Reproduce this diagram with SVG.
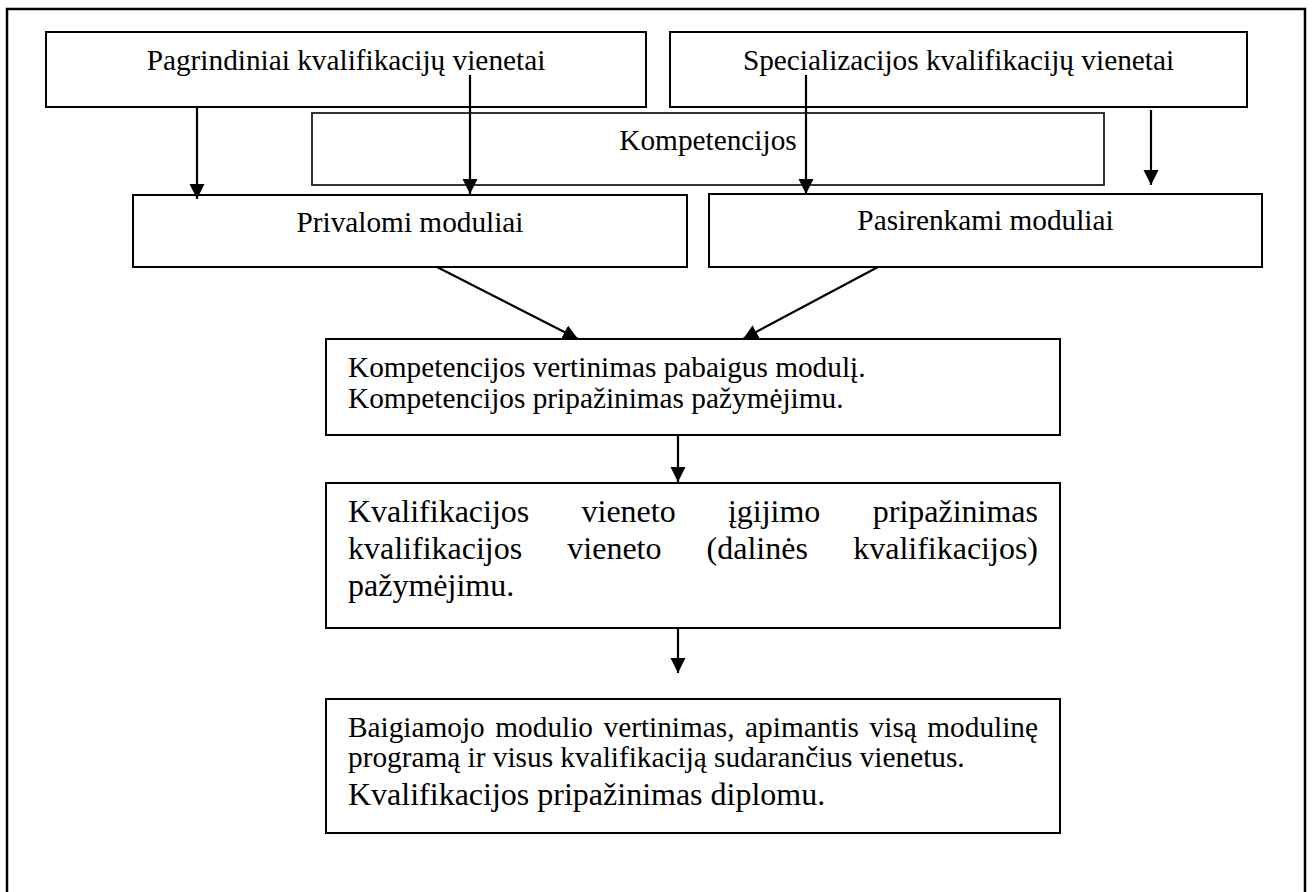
<svg xmlns="http://www.w3.org/2000/svg" width="1313" height="892" viewBox="0 0 1313 892">
  <style>
    .box { fill: #ffffff; stroke: #000000; stroke-width: 2; }
    .box2 { fill: #ffffff; stroke: #111111; stroke-width: 1.7; }
    .t { font-family: "Liberation Serif", "Times New Roman", serif; fill: #000000; }
    .s11 { font-size: 29.3px; }
    .s12 { font-size: 32px; }
    .c { text-anchor: middle; }
    .conn { stroke: #000000; stroke-width: 2.2; fill: none; marker-end: url(#ah); }
  </style>
  <defs>
    <marker id="ah" markerUnits="userSpaceOnUse" markerWidth="16" markerHeight="16" refX="15" refY="7.5" orient="auto" viewBox="0 0 16 16">
      <path d="M0,0 L15,7.5 L0,15 z" fill="#000000"/>
    </marker>
  </defs>
  <rect width="1313" height="892" fill="#ffffff"/>
  <path d="M7,892 V9 H1305 V892" fill="none" stroke="#000000" stroke-width="2.5"/>

  <g id="node-pagrindiniai">
    <rect class="box" x="46" y="32" width="600" height="75"/>
    <text class="t s11 c" x="346" y="70">Pagrindiniai kvalifikacijų vienetai</text>
  </g>
  <g id="node-specializacijos">
    <rect class="box" x="670" y="32" width="577" height="75"/>
    <text class="t s11 c" x="958.5" y="70">Specializacijos kvalifikacijų vienetai</text>
  </g>
  <g id="node-kompetencijos">
    <rect class="box2" x="312" y="113" width="792" height="72"/>
    <text class="t s11 c" x="708" y="150">Kompetencijos</text>
  </g>
  <g id="node-privalomi">
    <rect class="box" x="133" y="195" width="554" height="72"/>
    <text class="t s11 c" x="410" y="232">Privalomi moduliai</text>
  </g>
  <g id="node-pasirenkami">
    <rect class="box" x="709" y="194" width="553" height="73"/>
    <text class="t s11 c" x="985.5" y="230">Pasirenkami moduliai</text>
  </g>
  <g id="node-vertinimas">
    <rect class="box" x="326" y="339" width="734" height="96"/>
    <text class="t s11" x="348" y="377">Kompetencijos vertinimas pabaigus modulį.</text>
    <text class="t s11" x="348" y="408">Kompetencijos pripažinimas pažymėjimu.</text>
  </g>
  <g id="node-vieneto-pripazinimas">
    <rect class="box" x="326" y="483" width="734" height="145"/>
    <text class="t s12" y="522"><tspan x="348">Kvalifikacijos</tspan><tspan x="581.5">vieneto</tspan><tspan x="727.9">įgijimo</tspan><tspan x="1038" text-anchor="end">pripažinimas</tspan></text>
    <text class="t s12" y="559"><tspan x="348">kvalifikacijos</tspan><tspan x="567.3">vieneto</tspan><tspan x="706.6">(dalinės</tspan><tspan x="1038" text-anchor="end">kvalifikacijos)</tspan></text>
    <text class="t s12" x="348" y="596">pažymėjimu.</text>
  </g>
  <g id="node-baigiamojo">
    <rect class="box" x="326" y="699" width="734" height="134"/>
    <text class="t s11" y="737"><tspan x="348">Baigiamojo</tspan><tspan x="495.3">modulio</tspan><tspan x="603.5">vertinimas,</tspan><tspan x="745.1">apimantis</tspan><tspan x="869.6">visą</tspan><tspan x="1038" text-anchor="end">modulinę</tspan></text>
    <text class="t s11" x="348" y="767">programą ir visus kvalifikaciją sudarančius vienetus.</text>
    <text class="t s12" x="348" y="805">Kvalifikacijos pripažinimas diplomu.</text>
  </g>

  <g id="connectors">
    <line class="conn" x1="197" y1="107" x2="197" y2="199"/>
    <line class="conn" x1="470" y1="75" x2="470" y2="194"/>
    <line class="conn" x1="806" y1="75" x2="806" y2="194"/>
    <line class="conn" x1="1151" y1="110" x2="1151" y2="185"/>
    <line class="conn" x1="437" y1="267" x2="578" y2="339"/>
    <line class="conn" x1="878" y1="267" x2="743" y2="339"/>
    <line class="conn" x1="678" y1="435" x2="678" y2="482"/>
    <line class="conn" x1="678" y1="628" x2="678" y2="673"/>
  </g>
</svg>
